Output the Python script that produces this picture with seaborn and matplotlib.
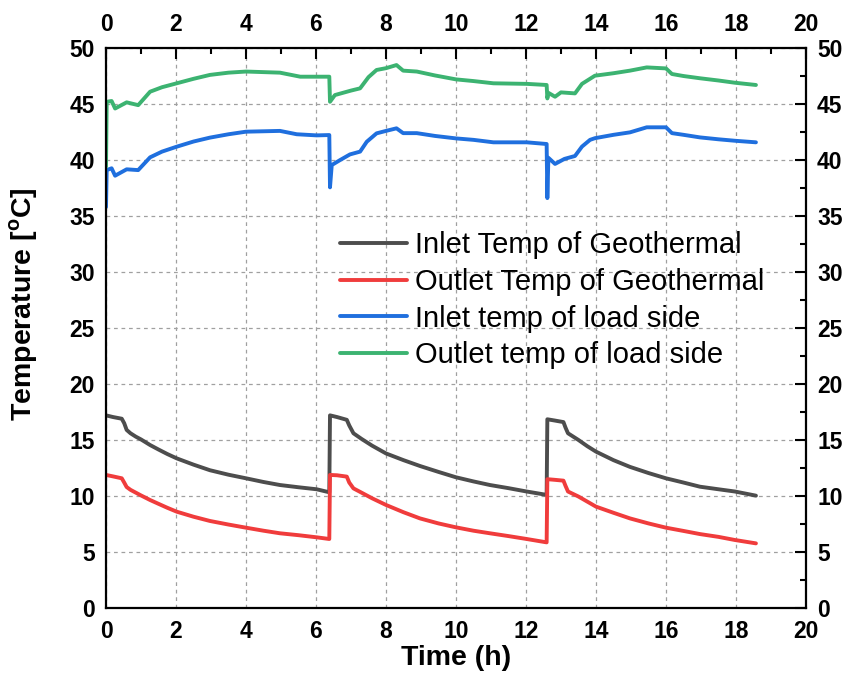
import matplotlib
matplotlib.use("Agg")
import matplotlib.pyplot as plt
import pandas as pd
import seaborn as sns
from matplotlib.ticker import MultipleLocator

# Inlet temp of geothermal side
t_gi = [0.0, 0.2, 0.45, 0.52, 0.59, 0.7, 0.85, 1.0, 1.26, 1.5, 1.75, 2.02, 2.5, 2.97, 3.5, 4.0, 4.5, 4.97, 5.5, 6.02, 6.38,
        6.40, 6.6, 6.88, 6.95, 7.07, 7.3, 7.6, 8.0, 8.5, 8.97, 9.5, 10.0, 10.5, 10.97, 11.5, 12.02, 12.59,
        12.61, 12.8, 13.07, 13.13, 13.2, 13.5, 13.75, 14.0, 14.5, 14.97, 15.5, 16.0, 16.5, 16.97, 17.5, 17.97, 18.57]
v_gi = [17.2, 17.05, 16.9, 16.5, 15.9, 15.6, 15.3, 15.05, 14.55, 14.15, 13.75, 13.36, 12.8, 12.3, 11.9, 11.58, 11.25, 10.98, 10.78, 10.6, 10.33,
        17.2, 17.05, 16.8, 16.3, 15.6, 15.1, 14.5, 13.8, 13.2, 12.68, 12.15, 11.67, 11.3, 10.98, 10.7, 10.4, 10.1,
        16.85, 16.75, 16.6, 16.1, 15.6, 15.0, 14.45, 13.96, 13.2, 12.6, 12.05, 11.58, 11.2, 10.83, 10.6, 10.4, 10.03]

# Outlet temp of geothermal side
t_go = [0.0, 0.2, 0.45, 0.52, 0.59, 0.7, 0.85, 1.0, 1.26, 1.5, 1.75, 2.02, 2.5, 2.97, 3.5, 4.0, 4.5, 4.97, 5.5, 6.02, 6.38,
        6.40, 6.6, 6.88, 6.95, 7.07, 7.3, 7.6, 8.0, 8.5, 8.97, 9.5, 10.0, 10.5, 10.97, 11.5, 12.02, 12.59,
        12.61, 12.8, 13.07, 13.13, 13.2, 13.5, 13.75, 14.0, 14.5, 14.97, 15.5, 16.0, 16.5, 16.97, 17.5, 17.97, 18.57]
v_go = [11.88, 11.75, 11.58, 11.2, 10.8, 10.55, 10.3, 10.05, 9.64, 9.3, 8.95, 8.6, 8.15, 7.77, 7.45, 7.17, 6.9, 6.67, 6.5, 6.31, 6.16,
        11.88, 11.85, 11.73, 11.2, 10.68, 10.3, 9.8, 9.2, 8.55, 8.0, 7.55, 7.2, 6.9, 6.67, 6.42, 6.16, 5.86,
        11.5, 11.45, 11.37, 10.9, 10.4, 9.95, 9.5, 9.05, 8.5, 8.0, 7.55, 7.17, 6.88, 6.6, 6.35, 6.07, 5.77]

# Inlet temp of load side
t_li = [0.0, 0.02, 0.16, 0.26, 0.59, 0.92, 1.26, 1.6, 2.02, 2.5, 2.97, 3.5, 4.0, 4.97, 5.45, 6.02, 6.38,
        6.40, 6.45, 6.69, 6.97, 7.26, 7.45, 7.73, 8.0, 8.3, 8.49, 8.88, 9.4, 10.0, 10.5, 11.07, 12.02, 12.59,
        12.61, 12.64, 12.83, 13.1, 13.4, 13.6, 13.83, 13.97, 14.5, 14.97, 15.45, 16.0, 16.17, 16.5, 16.97, 17.5, 17.97, 18.57]
v_li = [35.8, 39.1, 39.26, 38.6, 39.17, 39.1, 40.24, 40.75, 41.19, 41.65, 42.0, 42.3, 42.53, 42.6, 42.3, 42.2, 42.23,
        37.56, 39.55, 40.0, 40.5, 40.75, 41.63, 42.38, 42.6, 42.83, 42.4, 42.4, 42.15, 41.93, 41.8, 41.58, 41.58, 41.43,
        36.6, 40.2, 39.65, 40.1, 40.36, 41.2, 41.8, 41.95, 42.25, 42.47, 42.92, 42.92, 42.4, 42.25, 42.02, 41.85, 41.72, 41.58]

# Outlet temp of load side
t_lo = [0.0, 0.02, 0.16, 0.26, 0.59, 0.92, 1.26, 1.6, 2.02, 2.5, 2.97, 3.5, 4.0, 4.97, 5.55, 6.38,
        6.40, 6.54, 7.0, 7.26, 7.5, 7.73, 8.0, 8.3, 8.49, 8.88, 9.4, 10.0, 10.5, 11.07, 12.02, 12.59,
        12.61, 12.64, 12.83, 13.0, 13.4, 13.6, 13.97, 14.5, 14.97, 15.45, 16.0, 16.17, 16.5, 16.97, 17.5, 17.97, 18.57]
v_lo = [39.4, 45.2, 45.27, 44.6, 45.15, 44.9, 46.1, 46.5, 46.85, 47.25, 47.6, 47.8, 47.9, 47.8, 47.44, 47.44,
        45.2, 45.8, 46.2, 46.4, 47.4, 48.04, 48.2, 48.48, 47.98, 47.9, 47.55, 47.2, 47.05, 46.85, 46.8, 46.7,
        45.5, 46.0, 45.65, 46.04, 45.95, 46.8, 47.53, 47.75, 47.98, 48.27, 48.18, 47.68, 47.5, 47.3, 47.1, 46.9, 46.7]

names = ["Inlet Temp of Geothermal", "Outlet Temp of Geothermal",
         "Inlet temp of load side", "Outlet temp of load side"]
colors = ["#4d4d4d", "#f03c3c", "#1f6fde", "#3cb371"]

frames = []
for name, t, v in zip(names, [t_gi, t_go, t_li, t_lo], [v_gi, v_go, v_li, v_lo]):
    frames.append(pd.DataFrame({"time": t, "temp": v, "series": name}))
df = pd.concat(frames, ignore_index=True)

sns.set_theme(style="white")
plt.rcParams["font.family"] = ["Liberation Sans", "DejaVu Sans"]
plt.rcParams["mathtext.fontset"] = "custom"
plt.rcParams["mathtext.rm"] = "Liberation Sans:bold"
plt.rcParams["mathtext.bf"] = "Liberation Sans:bold"
for key in ["text.color", "axes.labelcolor", "xtick.color", "ytick.color"]:
    plt.rcParams[key] = "black"

fig = plt.figure(figsize=(8.46, 6.95), dpi=100)
ax = fig.add_axes([0.1253, 0.1252, 0.8274, 0.8057])

sns.lineplot(data=df, x="time", y="temp", hue="series", hue_order=names,
             palette=colors, estimator=None, sort=False, linewidth=2.8, ax=ax)

ax.set_xlim(0, 20)
ax.set_ylim(0, 50)
ax.xaxis.set_major_locator(MultipleLocator(2))
ax.xaxis.set_minor_locator(MultipleLocator(1))
ax.yaxis.set_major_locator(MultipleLocator(5))
ax.yaxis.set_minor_locator(MultipleLocator(2.5))
ax.grid(True, which="major", color="#a0a0a0", linestyle=(0, (3, 3)), linewidth=0.9)

ax.tick_params(which="both", direction="in", top=True, right=True,
               labeltop=True, labelright=True, width=1.5)
ax.tick_params(which="major", length=8, labelsize=16.5)
ax.tick_params(axis="x", which="major", pad=9)
ax.tick_params(axis="y", which="major", pad=8)
ax.tick_params(which="minor", length=4)
for lab in ax.get_xticklabels() + ax.get_yticklabels():
    lab.set_fontweight("bold")
for sp in ax.spines.values():
    sp.set_linewidth(1.6)
    sp.set_color("black")

ax.set_xlabel("Time (h)", fontsize=20.5, fontweight="bold")
ax.xaxis.set_label_coords(0.5, -0.066)
ax.set_ylabel(r"Temperature [$^\mathregular{o}$C]", fontsize=20.5, fontweight="bold")
ax.yaxis.set_label_coords(-0.094, 0.543)

ax.legend(loc="upper left", bbox_to_anchor=(0.334, 0.673), frameon=False,
          fontsize=21, handlelength=2.3, handletextpad=0.28, labelspacing=0.3,
          borderaxespad=0, borderpad=0)

fig.savefig("out.png", dpi=100)
